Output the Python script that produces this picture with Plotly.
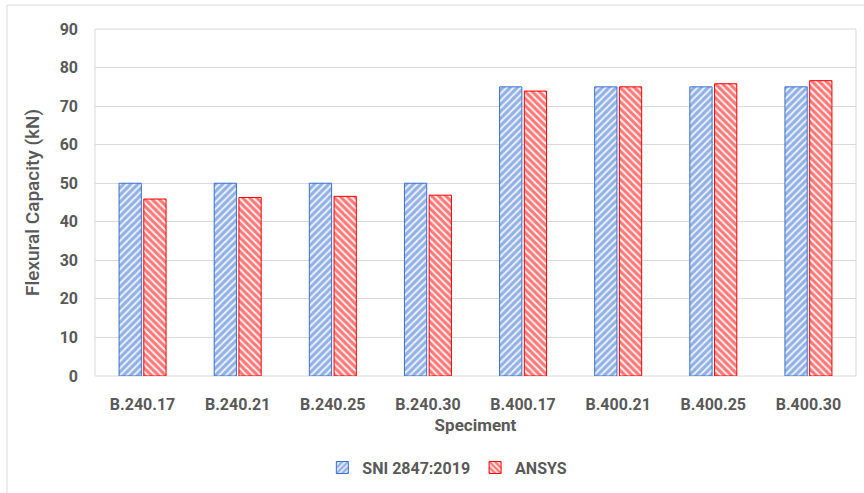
import plotly.graph_objects as go

categories = ["B.240.17", "B.240.21", "B.240.25", "B.240.30",
              "B.400.17", "B.400.21", "B.400.25", "B.400.30"]
sni_values = [50, 50, 50, 50, 75, 75, 75, 75]
ansys_values = [45.9, 46.3, 46.6, 46.9, 73.9, 75.0, 75.8, 76.6]
y_ticks = [0, 10, 20, 30, 40, 50, 60, 70, 80, 90]

FONT = "Roboto, Liberation Sans, Arial"
GREY = "#595959"
BLUE = "#3A70CC"
RED = "#FF0000"

fig = go.Figure()
fig.add_trace(go.Bar(
    x=categories, y=sni_values, name="SNI 2847:2019",
    marker=dict(color="white",
                line=dict(color=BLUE, width=1),
                pattern=dict(shape="/", fgcolor=BLUE, bgcolor="#EAF1FB",
                             size=5, solidity=0.6)),
))
fig.add_trace(go.Bar(
    x=categories, y=ansys_values, name="ANSYS",
    marker=dict(color="white",
                line=dict(color=RED, width=1),
                pattern=dict(shape="\\", fgcolor=RED, bgcolor="#FFF0F0",
                             size=5, solidity=0.6)),
))

fig.update_layout(
    width=864, height=493,
    margin=dict(l=95, r=8, t=29, b=115),
    paper_bgcolor="white", plot_bgcolor="white",
    barmode="group", bargap=0.48, bargroupgap=0.1,
    font=dict(family=FONT, color=GREY, size=16, weight="bold"),
    showlegend=True,
    legend=dict(orientation="h", x=0.463, xanchor="center", y=-0.215, yanchor="top",
                bgcolor="rgba(0,0,0,0)",
                font=dict(family=FONT, size=16, color=GREY, weight="bold"),
                itemwidth=30, traceorder="normal"),
    shapes=[
        dict(type="rect", xref="paper", yref="paper",
             x0=-88/761, x1=1.02, y0=-0.36, y1=1 + 24/349,
             line=dict(color="#D9D9D9", width=1), layer="below"),
        dict(type="rect", xref="paper", yref="paper",
             x0=0, x1=1, y0=0, y1=1,
             line=dict(color="#D9D9D9", width=1), layer="below"),
    ],
)

fig.update_yaxes(
    range=[0, 90], tickvals=y_ticks, showgrid=True, gridcolor="#D9D9D9",
    gridwidth=1, zeroline=False, showline=False, ticks="", automargin=False,
    tickfont=dict(family=FONT, size=16, color=GREY, weight="bold"),
    title=dict(text="Flexural Capacity (kN)", standoff=14,
               font=dict(family=FONT, size=19, color=GREY, weight=500)),
    ticklabelstandoff=16,
)
fig.update_xaxes(
    showline=False, ticks="", showgrid=False, automargin=False,
    tickfont=dict(family=FONT, size=16, color=GREY, weight="bold"),
    title=dict(text="Speciment", standoff=6,
               font=dict(family=FONT, size=17, color=GREY, weight="bold")),
    ticklabelstandoff=17,
)

fig.write_html("out.html", config={"displayModeBar": False},
               post_script="document.body.style.margin='0';")
